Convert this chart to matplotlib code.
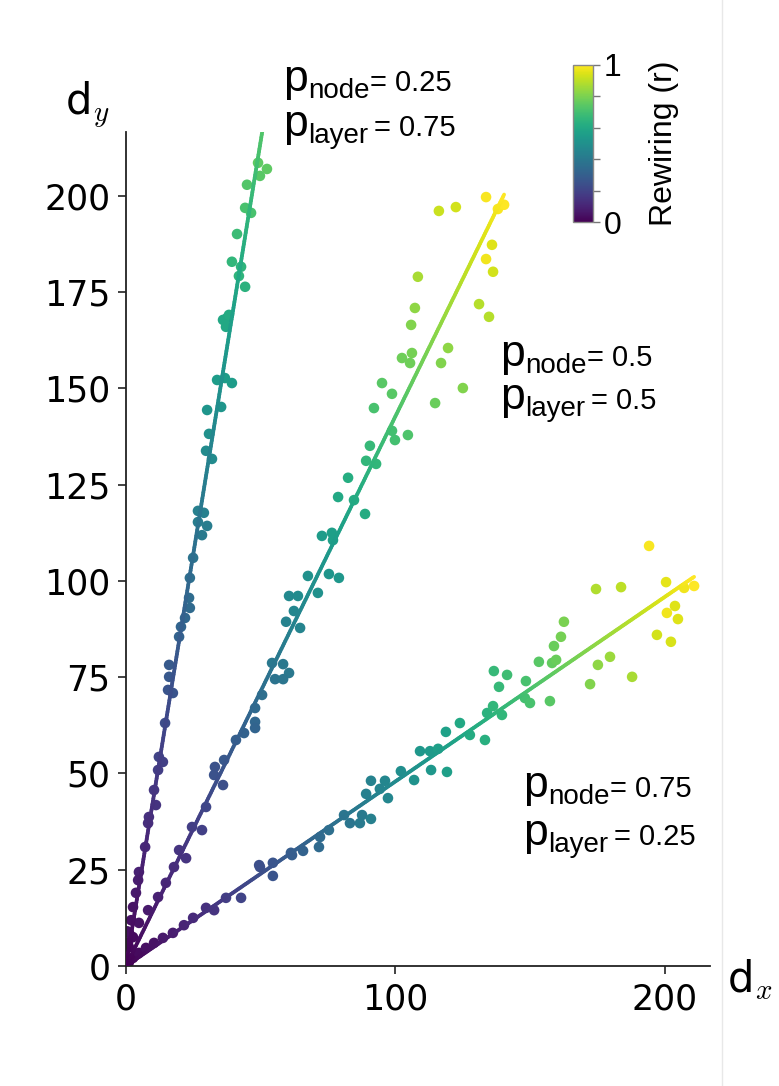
import numpy as np
import matplotlib
matplotlib.use("Agg")
import matplotlib as mpl
import matplotlib.pyplot as plt
from matplotlib.collections import LineCollection
from matplotlib.lines import Line2D

# ---------------- data ----------------
# series 1: p_node = 0.25, p_layer = 0.75
s1_dx = [49.0, 52.3, 49.7, 44.9, 44.2, 46.4, 41.2, 39.3, 42.7, 41.9, 44.2, 36.0, 37.5, 38.2, 37.1,
         33.8, 36.7, 39.3, 30.1, 35.3, 30.8, 29.7, 31.9, 26.7, 28.9, 26.7, 30.1, 28.2, 24.9, 23.7,
         23.4, 23.7, 21.9, 20.4, 19.7, 16.0, 16.0, 17.4, 15.6, 14.5, 12.2, 13.7, 11.9, 10.4, 11.1,
         8.5, 8.2, 7.1, 4.8, 4.5, 3.7, 2.6, 1.9, 1.1, 0.7]
s1_dy = [208.6, 207.0, 205.2, 202.9, 196.9, 195.6, 190.1, 182.9, 181.6, 179.2, 176.4, 167.8, 168.3, 169.1, 166.0,
         152.2, 152.7, 151.4, 144.4, 145.2, 138.2, 133.8, 131.7, 118.2, 117.7, 115.3, 114.3, 111.9, 106.0, 100.8,
         95.6, 93.0, 90.4, 88.1, 85.5, 78.2, 75.1, 70.9, 71.7, 63.1, 54.3, 53.0, 50.9, 45.7, 41.8,
         38.7, 37.1, 30.9, 24.4, 22.3, 19.0, 15.3, 11.9, 8.6, 6.0]
s1_r = [0.75, 0.75, 0.74, 0.73, 0.71, 0.71, 0.68, 0.66, 0.65, 0.65, 0.64, 0.60, 0.60, 0.61, 0.60,
        0.55, 0.55, 0.55, 0.52, 0.52, 0.50, 0.48, 0.48, 0.43, 0.43, 0.42, 0.42, 0.41, 0.38, 0.36,
        0.35, 0.34, 0.33, 0.32, 0.31, 0.28, 0.27, 0.26, 0.26, 0.23, 0.20, 0.19, 0.18, 0.16, 0.15,
        0.14, 0.13, 0.11, 0.09, 0.08, 0.07, 0.05, 0.04, 0.03, 0.02]

# series 2: p_node = 0.5, p_layer = 0.5
s2_dx = [116.1, 122.4, 133.6, 138.0, 140.3, 135.8, 133.6, 136.2, 108.3, 131.0, 134.7, 107.2, 105.8, 119.5,
         106.1, 102.4, 105.4, 116.9, 125.0, 114.7, 95.0, 98.7, 92.0, 98.7, 99.8, 104.6, 90.5, 89.1, 92.8,
         82.4, 78.7, 84.6, 88.7, 72.7, 76.4, 76.8, 67.5, 75.3, 79.0, 60.5, 63.8, 71.2, 62.3, 59.4, 64.6,
         54.2, 58.3, 60.5, 55.3, 58.3, 50.5, 47.9, 47.9, 47.9, 43.8, 40.8, 36.4, 33.0, 32.7, 36.0, 29.7,
         28.2, 24.5, 22.3, 19.7, 17.8, 14.8, 11.9, 8.2, 4.8, 2.6, 1.1, 0.5, 0.4]
s2_dy = [196.1, 197.1, 199.7, 196.6, 197.7, 187.3, 183.6, 180.3, 179.0, 171.9, 168.6, 170.9, 166.5, 160.5,
         159.2, 157.9, 156.6, 156.6, 150.1, 146.2, 151.4, 148.6, 144.9, 139.0, 136.6, 137.9, 135.1, 131.2, 130.4,
         126.8, 121.8, 121.0, 117.4, 111.7, 112.5, 110.6, 101.3, 101.8, 100.8, 96.1, 96.1, 96.9, 92.2, 89.4, 87.8,
         78.7, 78.4, 76.1, 74.5, 74.5, 70.4, 67.0, 63.4, 61.8, 60.5, 58.7, 53.5, 51.7, 49.6, 47.0, 41.3,
         35.3, 36.1, 28.0, 30.1, 25.7, 21.6, 17.9, 14.5, 11.2, 7.5, 4.9, 9.0, 6.0]
s2_r = [0.92, 0.93, 0.99, 0.99, 1.00, 0.95, 0.98, 0.93, 0.87, 0.89, 0.89, 0.83, 0.81, 0.83,
        0.79, 0.78, 0.78, 0.81, 0.81, 0.77, 0.74, 0.74, 0.71, 0.70, 0.70, 0.72, 0.67, 0.66, 0.66,
        0.62, 0.60, 0.61, 0.61, 0.55, 0.56, 0.56, 0.50, 0.52, 0.53, 0.47, 0.48, 0.50, 0.46, 0.44, 0.45,
        0.40, 0.40, 0.40, 0.38, 0.39, 0.36, 0.34, 0.33, 0.32, 0.31, 0.30, 0.27, 0.25, 0.25, 0.24, 0.21,
        0.19, 0.18, 0.15, 0.15, 0.13, 0.11, 0.09, 0.07, 0.05, 0.03, 0.02, 0.04, 0.02]

# series 3: p_node = 0.75, p_layer = 0.25
s3_dx = [1.1, 2.6, 4.8, 7.4, 10.4, 13.7, 17.4, 21.5, 24.9, 29.7, 32.7, 37.1, 42.7, 49.4, 49.7, 54.5, 54.5,
         61.2, 61.6, 65.7, 71.6, 72.0, 75.3, 80.9, 83.1, 86.8, 87.6, 90.9, 89.1, 90.9, 96.1, 94.2, 97.2,
         102.0, 106.9, 109.1, 112.8, 115.8, 113.2, 119.1, 118.7, 123.9, 127.6, 133.2, 134.0, 136.2, 139.5,
         136.5, 138.4, 141.4, 148.4, 148.0, 149.9, 157.3, 153.2, 158.1, 159.6, 158.8, 161.4, 162.5, 172.2,
         175.1, 179.6, 187.8, 174.4, 183.7, 194.1, 200.4, 197.0, 202.2, 200.7, 203.7, 204.8, 207.1, 210.8]
s3_dy = [1.0, 2.1, 3.4, 4.7, 6.0, 7.3, 8.6, 10.6, 12.5, 15.1, 14.5, 17.7, 17.7, 26.2, 25.7, 23.4, 26.8,
         29.4, 28.8, 29.9, 30.9, 33.5, 35.3, 39.2, 37.1, 37.1, 39.2, 38.2, 44.7, 48.1, 48.1, 46.0, 43.6,
         50.6, 48.3, 55.8, 55.8, 56.4, 50.9, 50.4, 60.8, 63.1, 60.0, 58.7, 65.7, 67.5, 65.2,
         76.6, 72.5, 75.6, 74.0, 69.6, 68.3, 68.8, 79.0, 78.7, 79.5, 83.1, 85.5, 89.4, 73.2,
         78.2, 80.3, 75.1, 97.9, 98.4, 109.1, 99.7, 86.0, 84.2, 91.7, 93.5, 90.1, 98.2, 98.7]
s3_r = [0.01, 0.01, 0.03, 0.04, 0.05, 0.07, 0.08, 0.10, 0.12, 0.14, 0.15, 0.18, 0.20, 0.24, 0.24, 0.26, 0.26,
        0.29, 0.29, 0.31, 0.34, 0.34, 0.36, 0.39, 0.39, 0.41, 0.41, 0.43, 0.43, 0.44, 0.46, 0.45, 0.46,
        0.49, 0.51, 0.53, 0.54, 0.56, 0.53, 0.56, 0.57, 0.60, 0.61, 0.63, 0.64, 0.66, 0.66,
        0.67, 0.67, 0.69, 0.71, 0.70, 0.71, 0.74, 0.74, 0.76, 0.77, 0.77, 0.79, 0.80, 0.81,
        0.83, 0.85, 0.87, 0.88, 0.90, 0.99, 0.96, 0.93, 0.94, 0.98, 0.95, 0.95, 0.98, 1.00]

p_node_vals = ["0.25", "0.5", "0.75"]
p_layer_vals = ["0.75", "0.5", "0.25"]
x_ticks = [0, 100, 200]
y_ticks = [0, 25, 50, 75, 100, 125, 150, 175, 200]
cbar_ticks = [0, 0.2, 0.4, 0.6, 0.8, 1.0]
cbar_ticklabels = ["0", "", "", "", "", "1"]

# ---------------- style ----------------
plt.rcParams["font.family"] = ["DejaVu Sans"]
plt.rcParams["mathtext.fontset"] = "custom"
plt.rcParams["mathtext.rm"] = "Liberation Sans"
plt.rcParams["mathtext.it"] = "Liberation Sans:italic"
plt.rcParams["mathtext.bf"] = "Liberation Sans:bold"

W, H = 779, 1086
fig = plt.figure(figsize=(W / 100, H / 100), dpi=100)
fig.patch.set_facecolor("white")

ax = fig.add_axes([126 / W, 1 - 966 / H, (710 - 126) / W, (966 - 132) / H])
cmap = plt.get_cmap("viridis")
norm = mpl.colors.Normalize(0, 1)

series = [(s1_dx, s1_dy, s1_r), (s2_dx, s2_dy, s2_r), (s3_dx, s3_dy, s3_r)]
for dx, dy, r in series:
    dx = np.asarray(dx, float)
    dy = np.asarray(dy, float)
    r = np.asarray(r, float)
    ax.scatter(dx, dy, c=r, cmap=cmap, norm=norm, s=58, linewidths=0, zorder=2)
    slope = np.sum(dx * dy) / np.sum(dx * dx)
    xs = np.linspace(0, dx.max(), 300)
    pts = np.column_stack([xs, slope * xs]).reshape(-1, 1, 2)
    segs = np.concatenate([pts[:-1], pts[1:]], axis=1)
    lc = LineCollection(segs, cmap=cmap, norm=norm, linewidths=2.7, zorder=3,
                        capstyle="round")
    lc.set_array(np.linspace(0, r.max(), len(segs)))
    ax.add_collection(lc)

ax.set_xlim(0, 216.7)
ax.set_ylim(0, 216.6)
ax.set_xticks(x_ticks)
ax.set_yticks(y_ticks)
for side in ["top", "right"]:
    ax.spines[side].set_visible(False)
for side in ["left", "bottom"]:
    ax.spines[side].set_linewidth(1.3)
    ax.spines[side].set_color("#222222")
ax.tick_params(axis="both", labelsize=25, length=6, width=1.2, color="#222222", direction="out")
ax.tick_params(axis="x", pad=6)
ax.tick_params(axis="y", pad=5)

# axis labels
fig.text(65 / W, 1 - 115 / H, r"d$_{y}$", fontsize=30, family="DejaVu Sans",
         math_fontfamily="cm", va="baseline", ha="left")
fig.text(727 / W, 1 - 993 / H, r"d$_{x}$", fontsize=30, family="DejaVu Sans",
         math_fontfamily="cm", va="baseline", ha="left")

# annotations
ann_pos = [(283, 91, 136), (500, 366, 409), (523, 797, 845)]
for (xp, b1, b2), pn, pl in zip(ann_pos, p_node_vals, p_layer_vals):
    for base, sub, val, gap in [(b1, "node", pn, 0), (b2, "layer", pl, 4)]:
        tp = fig.text(xp / W, 1 - base / H, "p", fontsize=32,
                      family="Liberation Sans", va="baseline", ha="left")
        ts = ax.annotate(sub, xy=(1.0, H - base), xycoords=(tp, "figure pixels"),
                         xytext=(0.5, -5), textcoords="offset points", fontsize=20,
                         family="Liberation Sans", va="baseline", ha="left",
                         annotation_clip=False)
        ax.annotate("= " + val, xy=(1.0, H - base), xycoords=(ts, "figure pixels"),
                    xytext=(gap, 0), textcoords="offset points", fontsize=21,
                    family="Liberation Sans", va="baseline", ha="left",
                    annotation_clip=False)

# colorbar
cax = fig.add_axes([573 / W, 1 - 222 / H, 20 / W, 157 / H])
sm = mpl.cm.ScalarMappable(norm=norm, cmap=cmap)
cb = fig.colorbar(sm, cax=cax, ticks=cbar_ticks)
cb.ax.set_yticklabels(cbar_ticklabels)
cb.outline.set_edgecolor("#888888")
cb.outline.set_linewidth(1.0)
cb.ax.tick_params(labelsize=23, length=5, width=1, color="#777777", pad=3)
for lab in cb.ax.get_yticklabels():
    lab.set_family("Liberation Sans")
fig.text(664 / W, 1 - 143 / H, "Rewiring (r)", rotation=90, va="center", ha="center",
         fontsize=23, family="Liberation Sans")

# faint frame line at right of the screenshot
fig.add_artist(Line2D([722 / W, 722 / W], [0, 1], transform=fig.transFigure,
                      color="#e8e8e8", lw=1))

fig.savefig("out.png", dpi=100)
